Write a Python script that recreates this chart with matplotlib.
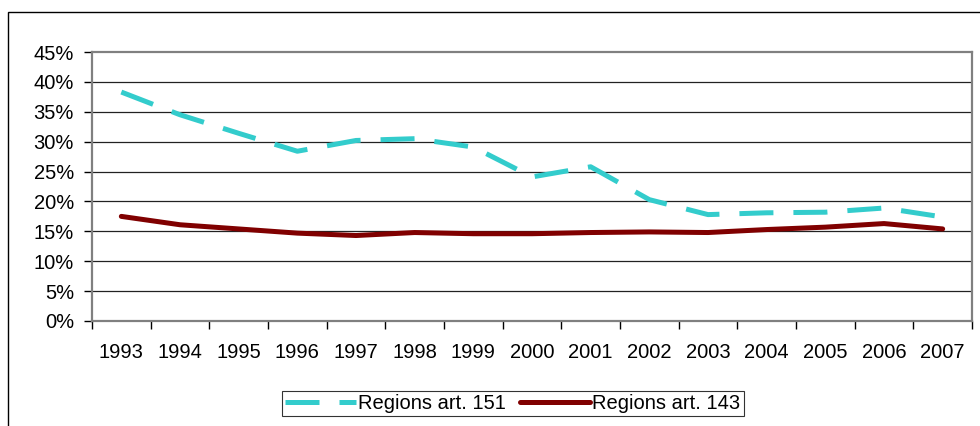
import matplotlib
matplotlib.use('Agg')
import matplotlib.pyplot as plt
from matplotlib.patches import Rectangle
from matplotlib.ticker import FixedLocator, PercentFormatter
import numpy as np

plt.rcParams['font.family'] = ['Liberation Sans', 'DejaVu Sans']

years = [str(y) for y in range(1993, 2008)]
art151 = [38.3, 34.5, 31.4, 28.4, 30.2, 30.5, 29.1, 24.1, 25.8, 20.3,
          17.8, 18.1, 18.2, 18.9, 17.4]
art143 = [17.5, 16.1, 15.4, 14.7, 14.3, 14.8, 14.6, 14.6, 14.8, 14.9,
          14.8, 15.3, 15.7, 16.3, 15.4]
labels = ['Regions art. 151', 'Regions art. 143']

FS = 14.5

fig = plt.figure(figsize=(9.8, 4.26), dpi=100)
# outer chart frame (clipped on the right and bottom like the source)
fig.patches.append(Rectangle((8 / 980, -0.05), 1.1, (426 - 12) / 426 + 0.05,
                             transform=fig.transFigure, fill=False,
                             edgecolor='black', linewidth=1.0))

ax = fig.add_axes([92 / 980, (426 - 321) / 426, (972 - 92) / 980, (321 - 52) / 426])
x = np.arange(len(years))

ax.plot(x, art151, color='#33CCCC', linewidth=3.6, label=labels[0],
        dashes=(6.8, 4.0), solid_capstyle='butt', dash_capstyle='butt')
ax.plot(x, art143, color='#800000', linewidth=3.6, label=labels[1],
        solid_capstyle='round')

ax.set_xlim(-0.5, len(years) - 0.5)
ax.set_ylim(0, 45)
ax.yaxis.set_major_locator(FixedLocator(np.arange(0, 46, 5)))
ax.yaxis.set_major_formatter(PercentFormatter(decimals=0))
ax.xaxis.set_major_locator(FixedLocator(np.arange(-0.5, len(years), 1)))
ax.xaxis.set_major_formatter(plt.NullFormatter())
ax.xaxis.set_minor_locator(FixedLocator(x))
ax.set_xticklabels(years, minor=True)

ax.tick_params(axis='x', which='major', length=6, width=1, color='black', direction='out')
ax.tick_params(axis='x', which='minor', length=0, pad=16, labelsize=FS)
ax.tick_params(axis='y', length=6, width=1, color='black', pad=7, labelsize=FS)

for v in range(5, 45, 5):
    ax.axhline(v, color='#222222', linewidth=0.9, zorder=0)
for s in ax.spines.values():
    s.set_color('#808080')
    s.set_linewidth(1.6)

leg = ax.legend(loc='center', bbox_to_anchor=(513 / 980, (426 - 403.5) / 426),
                bbox_transform=fig.transFigure, ncol=2, fontsize=FS,
                frameon=True, fancybox=False, handlelength=3.5,
                handletextpad=0.1, columnspacing=0.7, borderpad=0.15,
                borderaxespad=0)
leg.get_frame().set_edgecolor('black')
leg.get_frame().set_linewidth(0.8)

fig.savefig('out.png', dpi=100)
